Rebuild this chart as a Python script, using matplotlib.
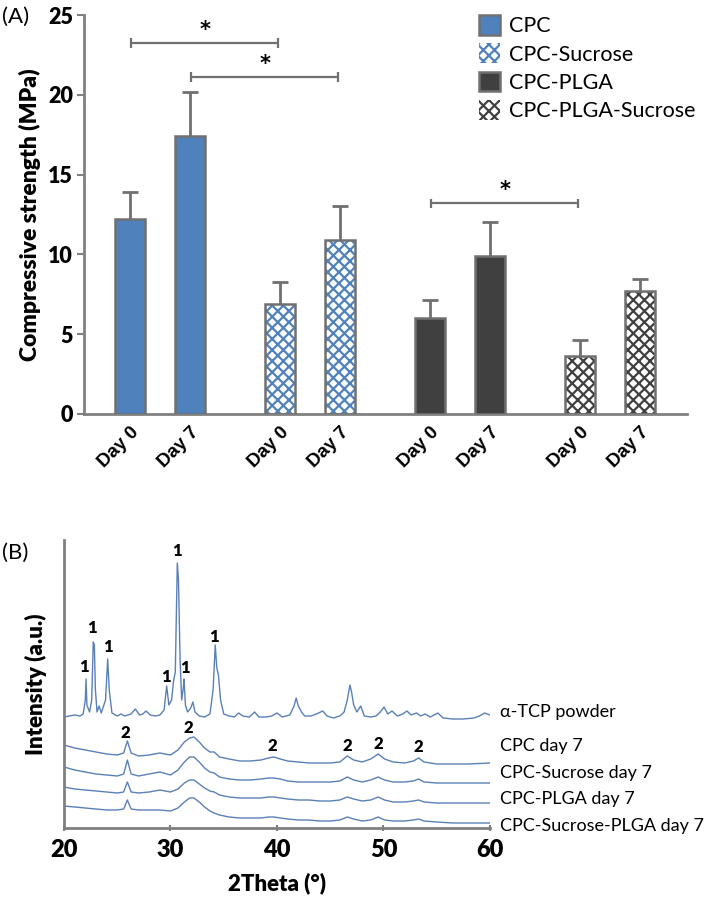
import matplotlib
matplotlib.use('Agg')
import matplotlib.pyplot as plt
from matplotlib.patches import Patch

# ---------------- Panel A data ----------------
groups = ['CPC', 'CPC-Sucrose', 'CPC-PLGA', 'CPC-PLGA-Sucrose']
day_labels = ['Day 0', 'Day 7', 'Day 0', 'Day 7', 'Day 0', 'Day 7', 'Day 0', 'Day 7']
bar_group = [0, 0, 1, 1, 2, 2, 3, 3]
strength_mean = [12.2, 17.4, 6.9, 10.9, 6.0, 9.9, 3.65, 7.7]
strength_err = [1.7, 2.8, 1.38, 2.13, 1.14, 2.13, 1.0, 0.76]
sig_pairs = [(0, 2, 23.25), (1, 3, 21.1), (4, 6, 13.2)]

# ---------------- Panel B data ----------------
theta_tcp = [20.0, 20.5, 21.0, 21.5, 21.8, 22.0, 22.07, 22.15, 22.4, 22.6, 22.75, 22.85, 22.95,
             23.1, 23.3, 23.5, 23.9, 24.1, 24.25, 24.5, 25.0, 25.35, 25.7, 26.3, 26.7, 27.1,
             27.4, 27.7, 28.1, 28.6, 29.0, 29.4, 29.64, 29.85, 30.1, 30.3, 30.45, 30.64, 30.75,
             30.9, 31.05, 31.2, 31.27, 31.4, 31.6, 31.9, 32.1, 32.3, 32.7, 33.2, 33.7, 34.0,
             34.2, 34.35, 34.5, 34.7, 35.0, 35.5, 36.0, 36.4, 36.8, 37.4, 37.9, 38.3, 39.0,
             39.5, 40.0, 40.5, 41.2, 41.6, 41.8, 42.0, 42.3, 42.6, 43.2, 43.7, 44.3, 44.7,
             45.3, 45.9, 46.3, 46.6, 46.85, 47.0, 47.2, 47.5, 47.86, 48.2, 48.8, 49.3, 49.7,
             50.05, 50.4, 50.8, 51.3, 51.8, 52.2, 52.6, 53.1, 53.5, 53.9, 54.4, 55.1, 55.6,
             56.5, 57.5, 58.5, 59.0, 59.5, 60.0]
int_tcp = [111, 112, 113, 112, 114, 128, 149, 123, 116, 128, 186, 183, 138,
           116, 122, 115, 128, 169, 138, 115, 112, 114, 112, 114, 119, 113,
           114, 117, 113, 112, 113, 118, 142, 123, 128, 148, 156, 265, 248,
           168, 128, 140, 149, 123, 116, 120, 126, 116, 112, 111, 114, 138,
           183, 160, 153, 128, 114, 112, 111, 115, 112, 111, 116, 111, 111,
           112, 115, 111, 113, 122, 130, 122, 116, 112, 112, 114, 117, 112,
           110, 112, 116, 128, 143, 136, 123, 116, 122, 112, 111, 112, 116,
           121, 114, 117, 112, 114, 117, 113, 115, 112, 114, 111, 115, 110,
           109, 109, 110, 112, 115, 113]

theta_day7 = [20, 21, 22, 23, 24, 25, 25.6, 25.95, 26.3, 27, 28, 29, 30, 30.7, 31.3, 31.8, 32.2,
              32.7, 33.2, 33.7, 34.1, 34.6, 35.5, 36.5, 37.5, 38.5, 39.2, 39.7, 40.3, 41, 42,
              43, 44, 45, 45.9, 46.6, 47.2, 48, 48.8, 49.5, 50.1, 50.9, 52, 52.8, 53.3, 53.8,
              55, 56.5, 58, 60]
int_cpc_d7 = [83, 80, 78, 76, 74, 73, 75, 87, 75, 72, 73, 75, 73, 78, 86, 90, 91, 86, 80, 76, 76,
              71, 69, 67, 67, 68, 70, 71, 69, 67, 66, 65, 65, 65, 66, 72, 68, 66, 69, 74, 69, 66,
              65, 67, 70, 66, 64, 64, 64, 65]
int_cpc_suc_d7 = [61, 58, 56, 54, 53, 52, 54, 68, 54, 52, 54, 56, 53, 58, 66, 71, 71, 66, 60, 56,
                  55, 51, 49, 48, 48, 49, 50, 50, 49, 47, 46, 46, 46, 46, 47, 51, 48, 46, 48, 51,
                  48, 46, 46, 47, 49, 46, 45, 45, 45, 45]
int_cpc_plga_d7 = [41, 39, 38, 37, 36, 35, 36, 46, 36, 35, 36, 38, 36, 39, 45, 48, 48, 44, 40, 37,
                   36, 33, 31, 30, 30, 30, 31, 31, 30, 29, 28, 28, 27, 27, 28, 31, 29, 27, 28, 31,
                   28, 26, 26, 27, 28, 26, 25, 25, 25, 25]
int_cpc_suc_plga_d7 = [22, 21, 20, 19, 18, 18, 19, 28, 19, 18, 18, 18, 17, 20, 26, 30, 30, 26, 21,
                       17, 15, 13, 11, 10, 10, 10, 11, 11, 10, 9, 8, 8, 7, 7, 8, 11, 9, 7, 8, 11,
                       8, 7, 7, 8, 9, 7, 6, 5, 5, 5]
trace_names = ['\u03b1-TCP powder', 'CPC day 7', 'CPC-Sucrose day 7', 'CPC-PLGA day 7',
               'CPC-Sucrose-PLGA day 7']
trace_label_y = [116, 82, 55, 29, 2]
peak1_theta = [21.9, 22.66, 24.1, 29.6, 30.64, 31.4, 34.1]
peak1_int = [161, 200, 181, 151, 277, 160, 191]
peak2_theta = [25.8, 31.65, 39.6, 46.6, 49.5, 53.3]
peak2_int = [95, 100, 82, 82, 84, 81]

# ---------------- styling ----------------
blue = '#4f81bd'
dark = '#404040'
edge = '#707070'
axis_gray = '#808080'
line_blue = '#5a80b8'
plt.rcParams['hatch.linewidth'] = 1.6

fig = plt.figure(figsize=(7.09, 9.02), dpi=100)

# ================= Panel A =================
axA = fig.add_axes([84 / 709, 1 - 414 / 902, (687 - 84) / 709, (414 - 15) / 902])
slots = [0, 2, 5, 7, 10, 12, 15, 17]
width = 0.98
fill_cols = [blue, 'white', dark, 'white']
hatch_cols = [None, blue, None, dark]
hatches = [None, 'xxx', None, 'xxx']
for i, (x, m) in enumerate(zip(slots, strength_mean)):
    g = bar_group[i]
    if hatches[g]:
        axA.bar(x, m, width=width, color='white', edgecolor=hatch_cols[g], hatch=hatches[g],
                linewidth=0, zorder=2)
        axA.bar(x, m, width=width, fill=False, edgecolor=edge, linewidth=1.8, zorder=3)
    else:
        axA.bar(x, m, width=width, color=fill_cols[g], edgecolor=edge, linewidth=1.8, zorder=3)
    axA.vlines(x, m, m + strength_err[i], color=edge, lw=2, zorder=4)
    axA.hlines(m + strength_err[i], x - 0.26, x + 0.26, color=edge, lw=2, zorder=4)

for (i, j, h) in sig_pairs:
    xi, xj = slots[i], slots[j]
    axA.hlines(h, xi + 0.05, xj - 0.05, color=edge, lw=1.6)
    axA.vlines([xi + 0.05, xj - 0.05], h - 0.3, h + 0.3, color=edge, lw=1.6)
    axA.text((xi + xj) / 2, h + 0.2, '*', ha='center', va='bottom', fontsize=15,
             fontweight='bold', family='DejaVu Sans')

axA.set_xlim(-1.53, 18.57)
axA.set_ylim(0, 25)
axA.set_yticks([0, 5, 10, 15, 20, 25])
axA.set_yticklabels(['0', '5', '10', '15', '20', '25'], fontsize=15.5, fontweight='heavy',
                    family='Lato')
axA.set_xticks(slots)
axA.set_xticklabels(day_labels, rotation=45, ha='right', rotation_mode='anchor',
                    fontsize=13.5, fontweight='bold', family='Liberation Sans')
axA.tick_params(axis='x', length=0, pad=7)
axA.tick_params(axis='y', length=5, width=1.5, color=axis_gray, pad=3)
for s in ['top', 'right']:
    axA.spines[s].set_visible(False)
for s in ['left', 'bottom']:
    axA.spines[s].set_color(axis_gray)
    axA.spines[s].set_linewidth(2)
axA.set_ylabel('Compressive strength (MPa)', fontsize=16.5, fontweight='heavy', family='Lato',
               labelpad=5)

handles = [
    Patch(facecolor=blue, edgecolor=edge, linewidth=1.8),
    Patch(facecolor='white', edgecolor=blue, hatch='xxx', linewidth=0),
    Patch(facecolor=dark, edgecolor=edge, linewidth=1.8),
    Patch(facecolor='white', edgecolor=dark, hatch='xxx', linewidth=0),
]
leg = fig.legend(handles, groups, loc='upper left', bbox_to_anchor=(464 / 709, 1 - 0 / 902),
                 frameon=False, prop={'family': 'Lato', 'size': 15.5}, handlelength=0.95,
                 handleheight=1.05, handletextpad=0.45, labelspacing=0.32, borderpad=0.2)

fig.text(2 / 709, 1 - 17 / 902, '(A)', fontsize=16, va='center', ha='left', family='Lato')

# ================= Panel B =================
axB = fig.add_axes([64 / 709, 1 - 828 / 902, (490 - 64) / 709, (828 - 540) / 902])
axB.plot(theta_tcp, int_tcp, color=line_blue, lw=1.0)
for ints in [int_cpc_d7, int_cpc_suc_d7, int_cpc_plga_d7, int_cpc_suc_plga_d7]:
    axB.plot(theta_day7, ints, color=line_blue, lw=1.0)

for t, v in zip(peak1_theta, peak1_int):
    axB.text(t, v, '1', ha='center', va='center', fontsize=12, fontweight='heavy', family='Lato')
for t, v in zip(peak2_theta, peak2_int):
    axB.text(t, v, '2', ha='center', va='center', fontsize=12, fontweight='heavy', family='Lato')
for name, v in zip(trace_names, trace_label_y):
    axB.text(60.95, v, name, ha='left', va='center', fontsize=13, family='Lato',
             clip_on=False)

axB.set_xlim(20, 60)
axB.set_ylim(0, 288)
axB.set_xticks([20, 30, 40, 50, 60])
axB.set_xticklabels(['20', '30', '40', '50', '60'], fontsize=17, fontweight='heavy',
                    family='Lato')
axB.set_yticks([])
axB.tick_params(axis='x', length=4, width=1.5, color=axis_gray, direction='inout', pad=6)
for s in ['top', 'right']:
    axB.spines[s].set_visible(False)
for s in ['left', 'bottom']:
    axB.spines[s].set_color(axis_gray)
    axB.spines[s].set_linewidth(2)
axB.set_xlabel('2Theta (\u00b0)', fontsize=16, fontweight='heavy', family='Lato', labelpad=8)
axB.set_ylabel('Intensity (a.u.)', fontsize=16, fontweight='heavy', family='Lato', labelpad=12)

fig.text(2 / 709, 1 - 553 / 902, '(B)', fontsize=16, va='center', ha='left', family='Lato')

fig.savefig('out.png', dpi=100)
